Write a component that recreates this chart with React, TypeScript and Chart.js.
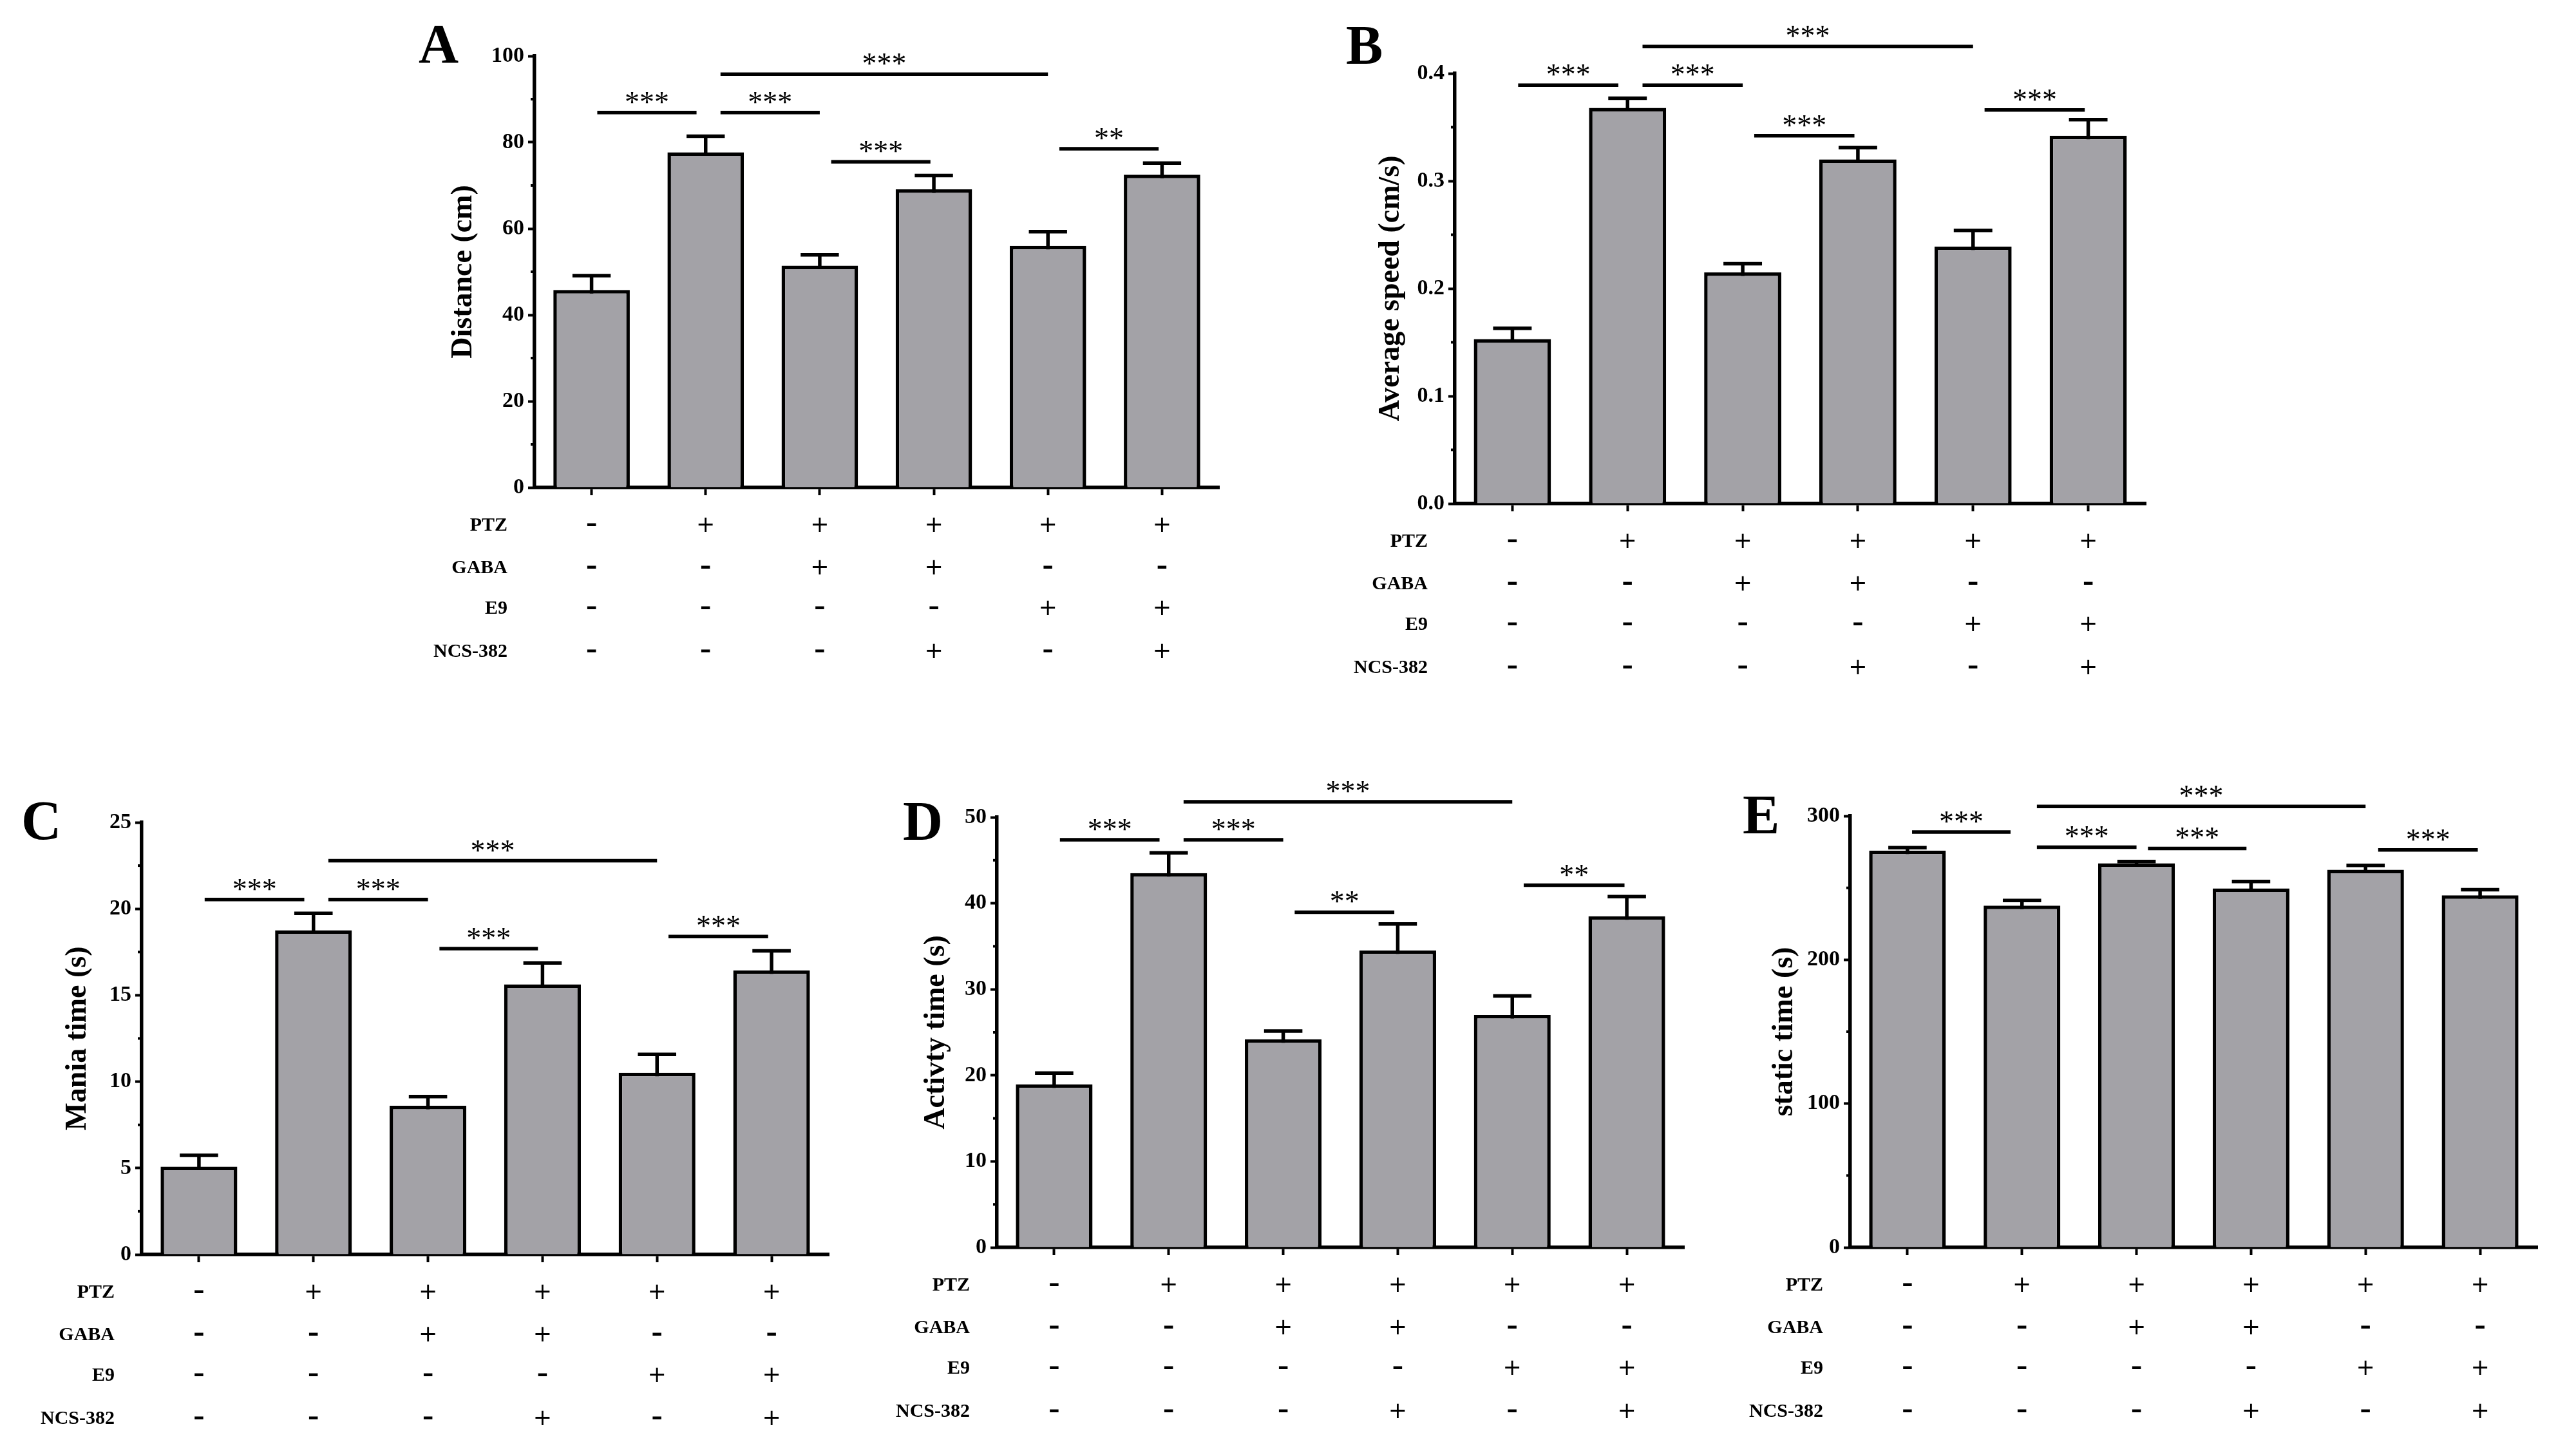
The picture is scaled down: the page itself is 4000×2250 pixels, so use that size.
import React, { useEffect, useRef } from 'react';
import { Chart, registerables } from 'chart.js';

Chart.register(...registerables);

// ---------- data ----------
const groups = ['Control', 'PTZ', 'PTZ+GABA', 'PTZ+GABA+NCS-382', 'PTZ+E9', 'PTZ+E9+NCS-382'];
const rowNames = ['PTZ', 'GABA', 'E9', 'NCS-382'];
const treatmentSigns = [
  ['-', '+', '+', '+', '+', '+'],
  ['-', '-', '+', '+', '-', '-'],
  ['-', '-', '-', '-', '+', '+'],
  ['-', '-', '-', '+', '-', '+'],
];

const distanceMean = [45.8, 77.7, 51.4, 69.1, 56.0, 72.5];
const distanceSem = [3.3, 3.7, 2.5, 3.2, 3.3, 2.7];
const speedMean = [0.153, 0.368, 0.215, 0.32, 0.239, 0.342];
const speedSem = [0.01, 0.009, 0.008, 0.011, 0.015, 0.015];
const maniaMean = [5.09, 18.76, 8.61, 15.63, 10.52, 16.44];
const maniaSem = [0.65, 0.98, 0.53, 1.24, 1.06, 1.13];
const activityMean = [18.95, 43.5, 24.19, 34.53, 27.02, 38.5];
const activitySem = [1.31, 2.37, 0.96, 3.07, 2.21, 2.28];
const staticMean = [275.9, 237.6, 267.1, 249.6, 262.6, 244.8];
const staticSem = [2.1, 3.6, 1.2, 4.8, 3.0, 3.9];

const distanceTicks = [0, 20, 40, 60, 80, 100];
const distanceTickLabels = ['0', '20', '40', '60', '80', '100'];
const distanceMinor = [10, 30, 50, 70, 90];
const speedTicks = [0, 0.1, 0.2, 0.3, 0.4];
const speedTickLabels = ['0.0', '0.1', '0.2', '0.3', '0.4'];
const speedMinor = [0.05, 0.15, 0.25, 0.35];
const maniaTicks = [0, 5, 10, 15, 20, 25];
const maniaTickLabels = ['0', '5', '10', '15', '20', '25'];
const maniaMinor = [2.5, 7.5, 12.5, 17.5, 22.5];
const activityTicks = [0, 10, 20, 30, 40, 50];
const activityTickLabels = ['0', '10', '20', '30', '40', '50'];
const activityMinor = [5, 15, 25, 35, 45];
const staticTicks = [0, 100, 200, 300];
const staticTickLabels = ['0', '100', '200', '300'];
const staticMinor = [50, 150, 250];

// significance brackets: [from index, to index, y value, label]
const distanceSig: [number, number, number, string][] = [
  [0.05, 0.92, 86.9, '***'], [1.13, 2.0, 86.9, '***'], [2.1, 2.97, 75.5, '***'], [1.13, 4.0, 95.8, '***'], [4.1, 4.97, 78.5, '**'],
];
const speedSig: [number, number, number, string][] = [
  [0.05, 0.92, 0.389, '***'], [1.13, 2.0, 0.389, '***'], [2.1, 2.97, 0.342, '***'], [1.13, 4.0, 0.425, '***'], [4.1, 4.97, 0.366, '***'],
];
const maniaSig: [number, number, number, string][] = [
  [0.05, 0.92, 20.54, '***'], [1.13, 2.0, 20.54, '***'], [2.1, 2.96, 17.7, '***'], [1.13, 4.0, 22.78, '***'], [4.1, 4.97, 18.4, '***'],
];
const activitySig: [number, number, number, string][] = [
  [0.05, 0.92, 47.38, '***'], [1.13, 2.0, 47.38, '***'], [2.1, 2.97, 38.96, '**'], [1.13, 4.0, 51.8, '***'], [4.1, 4.98, 42.1, '**'],
];
const staticSig: [number, number, number, string][] = [
  [0.04, 0.9, 288.8, '***'], [1.13, 2.0, 278.3, '***'], [2.1, 2.96, 277.4, '***'], [1.13, 4.0, 306.6, '***'], [4.11, 4.98, 276.4, '***'],
];

// ---------- panels (data + layout) ----------
type Panel = {
  letter: string; title: string; mean: number[]; sem: number[];
  ticks: number[]; tickLabels: string[]; minor: number[]; max: number;
  sig: [number, number, number, string][];
  axisX: number; top: number; bottom: number; right: number;
  titleX: number; letterX: number; letterY: number;
};

const panels: Panel[] = [
  { letter: 'A', title: 'Distance (cm)', mean: distanceMean, sem: distanceSem, ticks: distanceTicks, tickLabels: distanceTickLabels, minor: distanceMinor, max: 100, sig: distanceSig,
    axisX: 830, top: 87, bottom: 757, right: 1893, titleX: 720, letterX: 650, letterY: 97 },
  { letter: 'B', title: 'Average speed (cm/s)', mean: speedMean, sem: speedSem, ticks: speedTicks, tickLabels: speedTickLabels, minor: speedMinor, max: 0.4, sig: speedSig,
    axisX: 2259, top: 114, bottom: 782, right: 3332, titleX: 2160, letterX: 2090, letterY: 99 },
  { letter: 'C', title: 'Mania time (s)', mean: maniaMean, sem: maniaSem, ticks: maniaTicks, tickLabels: maniaTickLabels, minor: maniaMinor, max: 25, sig: maniaSig,
    axisX: 220, top: 1277, bottom: 1948, right: 1287, titleX: 121, letterX: 33, letterY: 1303 },
  { letter: 'D', title: 'Activty time (s)', mean: activityMean, sem: activitySem, ticks: activityTicks, tickLabels: activityTickLabels, minor: activityMinor, max: 50, sig: activitySig,
    axisX: 1548, top: 1269, bottom: 1937, right: 2615, titleX: 1454, letterX: 1402, letterY: 1304 },
  { letter: 'E', title: 'static time (s)', mean: staticMean, sem: staticSem, ticks: staticTicks, tickLabels: staticTickLabels, minor: staticMinor, max: 300, sig: staticSig,
    axisX: 2873, top: 1267, bottom: 1937, right: 3940, titleX: 2771, letterX: 2706, letterY: 1294 },
];

const W = 4000;
const H = 2250;
const Y_BOX = 150;
const X_BOX = 20;
const SERIF = '"Liberation Serif", "Times New Roman", serif';
const TITLE_SIZE = 46;
const TITLE_LH = 1.2;
const ROW_OFFSETS = [57, 123, 186, 253];
const LINE_W = 5.5;

function fillInk(ctx: CanvasRenderingContext2D, text: string, x: number, y: number, font: string, align: CanvasTextAlign) {
  ctx.font = font;
  ctx.textAlign = align;
  ctx.textBaseline = 'alphabetic';
  const m = ctx.measureText(text);
  const off = (m.actualBoundingBoxAscent - m.actualBoundingBoxDescent) / 2;
  ctx.fillText(text, x, y + off);
}

function extrasPlugin(p: Panel) {
  return {
    id: 'extras' + p.letter,
    afterDatasetsDraw(chart: any) {
      const ctx: CanvasRenderingContext2D = chart.ctx;
      const ys = chart.scales.y;
      const meta = chart.getDatasetMeta(0);
      ctx.save();
      ctx.strokeStyle = '#000';
      ctx.lineWidth = LINE_W;
      ctx.lineCap = 'butt';
      meta.data.forEach((bar: any, i: number) => {
        const top = ys.getPixelForValue(p.mean[i] + p.sem[i]);
        const cap = bar.width * 0.5;
        ctx.beginPath();
        ctx.moveTo(bar.x, bar.y + LINE_W);
        ctx.lineTo(bar.x, top);
        ctx.moveTo(bar.x - cap / 2, top);
        ctx.lineTo(bar.x + cap / 2, top);
        ctx.stroke();
      });
      ctx.restore();
    },
    afterDraw(chart: any) {
      const ctx: CanvasRenderingContext2D = chart.ctx;
      const xs = chart.scales.x;
      const ys = chart.scales.y;
      const area = chart.chartArea;
      ctx.save();
      ctx.fillStyle = '#000';
      ctx.strokeStyle = '#000';
      // minor ticks
      ctx.lineWidth = 4;
      p.minor.forEach((v) => {
        const py = ys.getPixelForValue(v);
        ctx.beginPath();
        ctx.moveTo(area.left - 6, py);
        ctx.lineTo(area.left, py);
        ctx.stroke();
      });
      // significance brackets
      ctx.lineWidth = LINE_W;
      p.sig.forEach(([a, b, v, label]) => {
        const x1 = xs.getPixelForValue(a);
        const x2 = xs.getPixelForValue(b);
        const py = ys.getPixelForValue(v);
        ctx.beginPath();
        ctx.moveTo(x1, py);
        ctx.lineTo(x2, py);
        ctx.stroke();
        ctx.font = `46px ${SERIF}`;
        ctx.textAlign = 'center';
        ctx.textBaseline = 'alphabetic';
        ctx.fillText(label, (x1 + x2) / 2, py - 1);
      });
      // treatment table
      rowNames.forEach((name, r) => {
        const py = area.bottom + ROW_OFFSETS[r];
        fillInk(ctx, name, area.left - 42, py, `bold 30px ${SERIF}`, 'right');
        treatmentSigns[r].forEach((s, i) => {
          const px = xs.getPixelForValue(i);
          const font = s === '+' ? '35px "DejaVu Sans", sans-serif' : `bold 52px ${SERIF}`;
          fillInk(ctx, s, px, py, font, 'center');
        });
      });
      // panel letter
      ctx.font = `bold 86px ${SERIF}`;
      ctx.textAlign = 'left';
      ctx.textBaseline = 'alphabetic';
      ctx.fillText(p.letter, p.letterX, p.letterY);
      ctx.restore();
    },
  };
}

function buildConfig(p: Panel): any {
  const titlePad = p.titleX - (p.axisX - Y_BOX) - (TITLE_SIZE * TITLE_LH) / 2;
  return {
    type: 'bar',
    data: {
      labels: groups,
      datasets: [
        {
          data: p.mean,
          backgroundColor: '#a3a2a7',
          borderColor: '#000',
          borderWidth: LINE_W,
          barPercentage: 0.67,
          categoryPercentage: 1.0,
        },
      ],
    },
    options: {
      animation: false,
      responsive: false,
      devicePixelRatio: 1,
      layout: {
        padding: {
          left: p.axisX - Y_BOX,
          top: p.top,
          right: W - p.right,
          bottom: H - p.bottom - X_BOX,
        },
      },
      plugins: { legend: { display: false }, tooltip: { enabled: false }, title: { display: false } },
      scales: {
        x: {
          type: 'category',
          offset: true,
          grid: { display: true, drawOnChartArea: false, drawTicks: true, tickLength: 12, tickWidth: 4, tickColor: '#000', color: '#000', offset: false },
          border: { display: true, color: '#000', width: LINE_W },
          ticks: { display: false },
          afterFit: (s: any) => { s.height = X_BOX; },
        },
        y: {
          type: 'linear',
          min: 0,
          max: p.max,
          grid: { display: true, drawOnChartArea: false, drawTicks: true, tickLength: 10, tickWidth: 4, tickColor: '#000', color: '#000' },
          border: { display: true, color: '#000', width: LINE_W },
          afterBuildTicks: (s: any) => { s.ticks = p.ticks.map((v) => ({ value: v })); },
          ticks: {
            color: '#000',
            padding: 6,
            font: { family: SERIF, weight: 'bold', size: 34 },
            callback: (_v: any, i: number) => p.tickLabels[i],
          },
          title: {
            display: true,
            text: p.title,
            color: '#000',
            font: { family: SERIF, weight: 'bold', size: TITLE_SIZE, lineHeight: TITLE_LH },
            padding: { top: titlePad, bottom: 0 },
          },
          afterFit: (s: any) => { s.width = Y_BOX; },
        },
      },
    },
    plugins: [extrasPlugin(p)],
  };
}

export default function App() {
  const refs = useRef<(HTMLCanvasElement | null)[]>([]);
  useEffect(() => {
    document.body.style.margin = '0';
    const charts = panels.map((p, k) => new Chart(refs.current[k] as HTMLCanvasElement, buildConfig(p)));
    return () => charts.forEach((c) => c.destroy());
  }, []);
  return (
    <div style={{ position: 'relative', width: W, height: H, background: '#fff', overflow: 'hidden' }}>
      {panels.map((p, k) => (
        <canvas
          key={p.letter}
          ref={(el) => { refs.current[k] = el; }}
          width={W}
          height={H}
          style={{ position: 'absolute', left: 0, top: 0, width: W, height: H }}
        />
      ))}
    </div>
  );
}
